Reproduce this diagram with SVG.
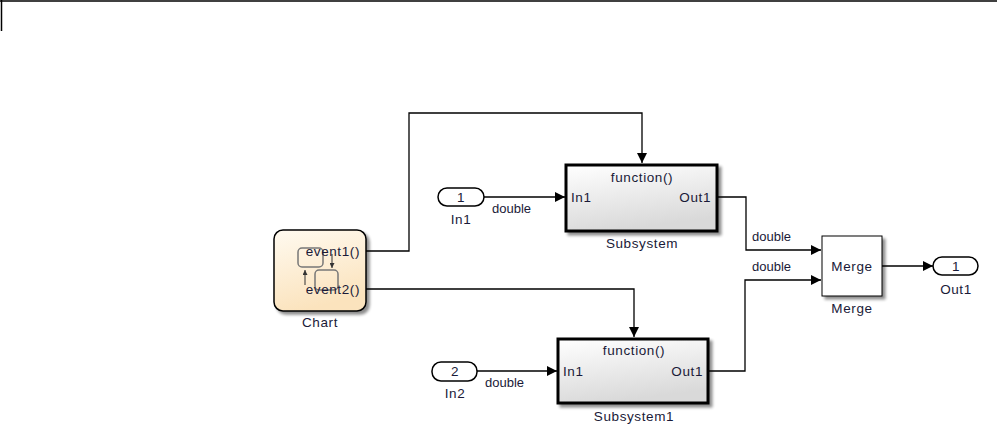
<svg xmlns="http://www.w3.org/2000/svg" width="997" height="439" viewBox="0 0 997 439">
<defs>
<linearGradient id="gSub" x1="0" y1="0" x2="0.3" y2="1">
<stop offset="0" stop-color="#ffffff"/>
<stop offset="1" stop-color="#d9d9d9"/>
</linearGradient>
<linearGradient id="gChart" x1="0" y1="0" x2="0.3" y2="1">
<stop offset="0" stop-color="#fffaf0"/>
<stop offset="1" stop-color="#fbe3bd"/>
</linearGradient>
<filter id="sh" x="-20%" y="-20%" width="150%" height="150%">
<feGaussianBlur in="SourceAlpha" stdDeviation="1.5"/>
<feOffset dx="2.5" dy="2.5" result="b"/>
<feComponentTransfer><feFuncA type="linear" slope="0.45"/></feComponentTransfer>
<feMerge><feMergeNode/><feMergeNode in="SourceGraphic"/></feMerge>
</filter>
<marker id="arr" viewBox="0 0 10 10" refX="10" refY="5" markerWidth="10" markerHeight="10" markerUnits="userSpaceOnUse" orient="auto">
<path d="M0,0 L10,5 L0,10 z" fill="#000"/>
</marker>
<marker id="sarr" viewBox="0 0 10 10" refX="10" refY="5" markerWidth="5" markerHeight="5" markerUnits="userSpaceOnUse" orient="auto">
<path d="M0,0 L10,5 L0,10 z" fill="#333"/>
</marker>
</defs>
<style>
text{font-family:"Liberation Sans",Arial,sans-serif;font-size:13.5px;letter-spacing:0.6px;fill:#1a1a38}
.c{text-anchor:middle}
.r{text-anchor:end}
.d{font-size:13px;letter-spacing:0}
.w{fill:none;stroke:#000;stroke-width:1.3}
.sub{fill:url(#gSub);stroke:#000;stroke-width:3}
.port{fill:#fff;stroke:#000;stroke-width:1.5}
</style>
<g id="frame">
<line x1="0" y1="1" x2="997" y2="1" stroke="#000" stroke-width="1.5"/>
<line x1="1.5" y1="0" x2="1.5" y2="31" stroke="#000" stroke-width="1.5"/>
</g>
<g id="connectors">
<polyline class="w" points="366,251 409,251 409,113 642,113 642,163" marker-end="url(#arr)"/>
<polyline class="w" points="366,289 634,289 634,337" marker-end="url(#arr)"/>
<polyline class="w" points="484,197 565,197" marker-end="url(#arr)"/>
<polyline class="w" points="477,371 557,371" marker-end="url(#arr)"/>
<polyline class="w" points="717,197 746,197 746,250 821,250" marker-end="url(#arr)"/>
<polyline class="w" points="708,371 745,371 745,280 821,280" marker-end="url(#arr)"/>
<polyline class="w" points="882,266 933,266" marker-end="url(#arr)"/>
<text class="d" x="492" y="213">double</text>
<text class="d" x="485" y="387">double</text>
<text class="d" x="752" y="241">double</text>
<text class="d" x="752" y="271">double</text>
</g>
<g id="chart">
<rect x="274" y="230" width="92" height="81" rx="9" fill="url(#gChart)" stroke="#000" stroke-width="1.5" filter="url(#sh)"/>
<rect x="298" y="248" width="25" height="19" rx="4" fill="none" stroke="#777" stroke-width="1.5"/>
<rect x="315" y="270" width="23" height="20" rx="4" fill="none" stroke="#777" stroke-width="1.5"/>
<line x1="332" y1="254" x2="332" y2="268" stroke="#333" stroke-width="1" marker-end="url(#sarr)"/>
<line x1="305" y1="285" x2="305" y2="270" stroke="#333" stroke-width="1" marker-end="url(#sarr)"/>
<text class="r" x="360" y="256">event1()</text>
<text class="r" x="360" y="294">event2()</text>
<text class="c" x="320" y="327">Chart</text>
</g>
<g id="in1">
<rect x="438" y="188" width="46" height="18" rx="9" class="port"/>
<text class="c" x="461" y="202">1</text>
<text class="c" x="461" y="224">In1</text>
</g>
<g id="in2">
<rect x="432" y="362" width="45" height="19" rx="9" class="port"/>
<text class="c" x="455" y="376">2</text>
<text class="c" x="455" y="398">In2</text>
</g>
<g id="subsystem">
<rect x="566" y="165" width="151" height="66" class="sub" filter="url(#sh)"/>
<text class="c" x="642" y="182">function()</text>
<text x="571" y="202">In1</text>
<text class="r" x="711" y="202">Out1</text>
<text class="c" x="642" y="248">Subsystem</text>
</g>
<g id="subsystem1">
<rect x="558" y="339" width="150" height="64" class="sub" filter="url(#sh)"/>
<text class="c" x="634" y="355">function()</text>
<text x="563" y="376">In1</text>
<text class="r" x="703" y="376">Out1</text>
<text class="c" x="634" y="421">Subsystem1</text>
</g>
<g id="merge">
<rect x="822" y="236" width="60" height="60" fill="#fff" stroke="#000" stroke-width="1" filter="url(#sh)"/>
<text class="c" x="852" y="271">Merge</text>
<text class="c" x="852" y="313">Merge</text>
</g>
<g id="out1">
<rect x="933" y="257" width="45" height="18" rx="9" class="port"/>
<text class="c" x="956" y="271">1</text>
<text class="c" x="956" y="294">Out1</text>
</g>
</svg>
